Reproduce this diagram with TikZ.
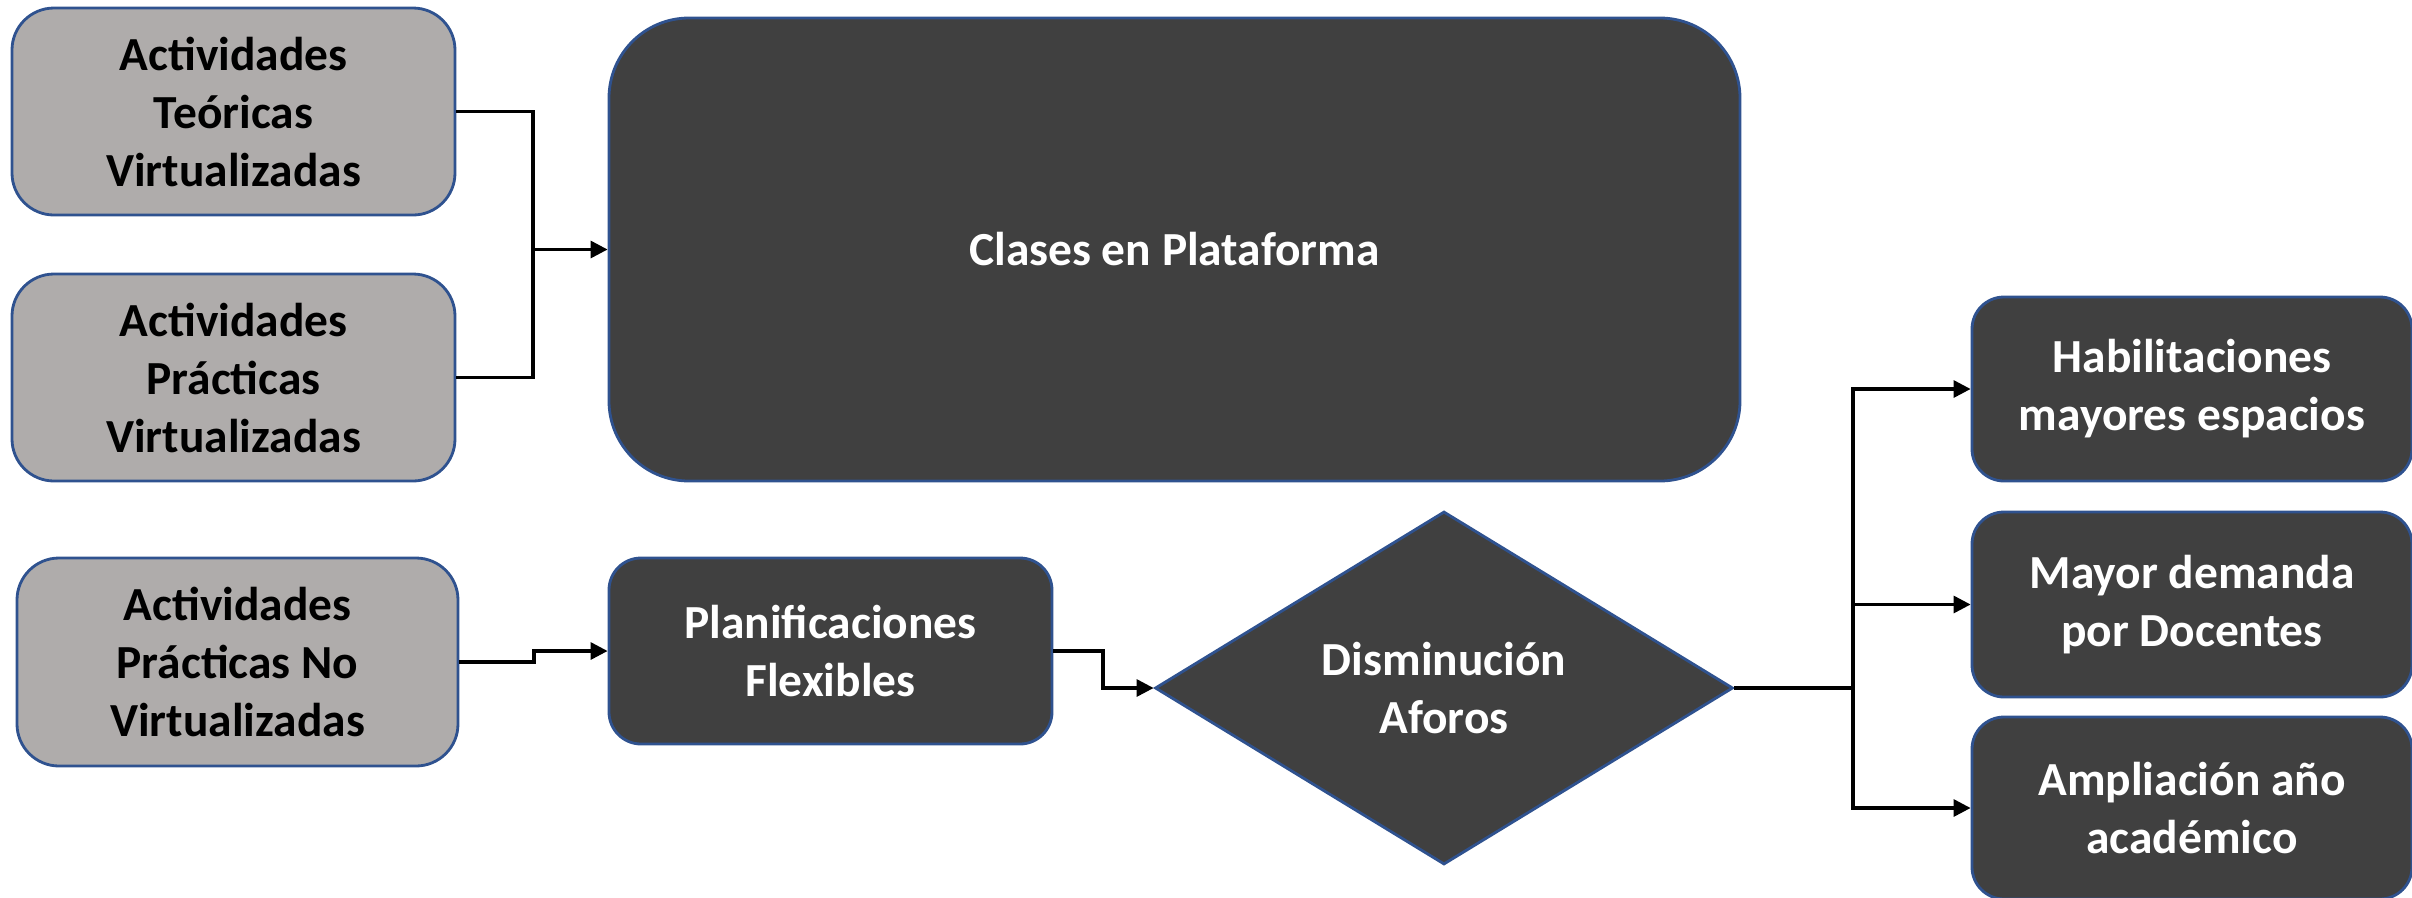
\documentclass[tikz,border=0pt]{standalone}
\usepackage{fontspec}
\setmainfont{Carlito}
\usetikzlibrary{shapes.geometric,arrows.meta}

\definecolor{boxgray}{HTML}{AFACAB}
\definecolor{boxdark}{HTML}{404040}
\definecolor{boxline}{HTML}{2F528F}

\begin{document}
\begin{tikzpicture}[
font=\fontsize{13.5}{16.5}\selectfont\bfseries,
base/.style={draw=boxline, line width=0.8pt, align=center, inner sep=0},
light/.style={base, fill=boxgray, text=black, rectangle, rounded corners=0.42cm},
dark/.style={base, fill=boxdark, text=white, rectangle, rounded corners=0.32cm},
conn/.style={line width=0.9pt, black},
arr/.style={conn, -{Triangle[length=0.17cm,width=0.17cm]}}]

\useasboundingbox (0,0) rectangle (24.12,-8.97);

\node[light, minimum width=4.43cm, minimum height=2.07cm] (teo) at (2.335,-1.115) {Actividades\\Teóricas\\Virtualizadas};
\node[light, minimum width=4.43cm, minimum height=2.07cm] (pra) at (2.335,-3.775) {Actividades\\Prácticas\\Virtualizadas};
\node[light, minimum width=4.41cm, minimum height=2.08cm] (nov) at (2.375,-6.62) {Actividades\\Prácticas No\\Virtualizadas};

\node[dark, rounded corners=0.8cm, minimum width=11.31cm, minimum height=4.63cm] (clases) at (11.745,-2.495) {Clases en Plataforma};
\node[dark, minimum width=4.43cm, minimum height=1.86cm] (plan) at (8.305,-6.51) {Planificaciones\\Flexibles};
\node[base, fill=boxdark, text=white, diamond, aspect=1.64, minimum width=5.78cm, minimum height=3.53cm] (afor) at (14.44,-6.88) {Disminución\\Aforos};

\node[dark, minimum width=4.40cm, minimum height=1.84cm] (hab) at (21.92,-3.89) {Habilitaciones\\mayores espacios};
\node[dark, minimum width=4.40cm, minimum height=1.85cm] (dem) at (21.92,-6.045) {Mayor demanda\\por Docentes};
\node[dark, minimum width=4.40cm, minimum height=1.82cm] (amp) at (21.92,-8.08) {Ampliación año\\académico};

\coordinate (j1) at (5.33,-2.495);
\coordinate (j2) at (5.34,-6.51);
\coordinate (j3) at (11.03,-6.88);
\coordinate (j4) at (18.53,-6.88);

\draw[conn] (teo.east) -| (j1);
\draw[conn] (pra.east) -| (j1);
\draw[arr] (j1) -- (clases.west);

\draw[arr] (nov.east) -| (j2) -- (plan.west);
\draw[arr] (plan.east) -| (j3) -- (afor.west);

\draw[conn] (afor.east) -- (j4);
\foreach \n in {hab, dem, amp} {
\draw[arr] (j4) |- (\n.west);
};

\end{tikzpicture}
\end{document}
